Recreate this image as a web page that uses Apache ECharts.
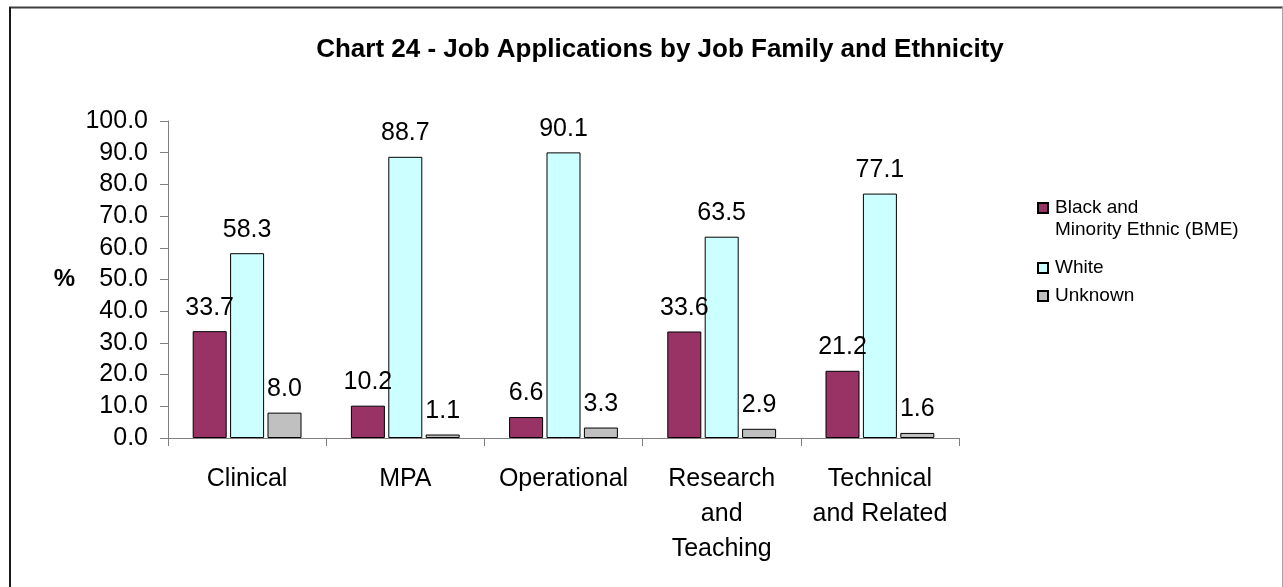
<!DOCTYPE html>
<html>
<head>
<meta charset="utf-8">
<script src="https://cdn.jsdelivr.net/npm/echarts@6/dist/echarts.min.js"></script>
<style>
  html, body { margin: 0; padding: 0; background: #fff; }
  #chart { width: 1283px; height: 587px; }
</style>
</head>
<body>
<div id="chart"></div>
<script>
// Job families on the x axis
const categories = ['Clinical', 'MPA', 'Operational', 'Research\nand\nTeaching', 'Technical\nand Related'];
// Percentage of applications by ethnic group
const bmeValues = [33.7, 10.2, 6.6, 33.6, 21.2];
const whiteValues = [58.3, 88.7, 90.1, 63.5, 77.1];
const unknownValues = [8.0, 1.1, 3.3, 2.9, 1.6];
const seriesNames = ['Black and\nMinority Ethnic (BME)', 'White', 'Unknown'];
const yTicks = { min: 0, max: 100, interval: 10 };

const FONT = '"Liberation Sans", Arial, sans-serif';
const chart = echarts.init(document.getElementById('chart'), null, { renderer: 'canvas' });

const labelStyle = {
  show: true,
  position: 'top',
  distance: 11,
  fontFamily: FONT,
  fontSize: 25,
  color: '#000',
  formatter: p => p.value.toFixed(1)
};

function barSeries(name, data, color) {
  return {
    name: name,
    type: 'bar',
    data: data,
    barWidth: 34,
    barGap: '10%',
    itemStyle: { color: color, borderColor: '#000', borderWidth: 1 },
    label: labelStyle,
    emphasis: { disabled: true }
  };
}

// One legend block per series so each entry can sit at its own height.
// A leading blank line keeps the marker level with the first line of a two-line name.
function legendBlock(name, top) {
  return {
    data: [name],
    left: 1032,
    top: top,
    orient: 'vertical',
    icon: 'rect',
    itemWidth: 10,
    itemHeight: 10,
    itemGap: 0,
    selectedMode: false,
    formatter: n => (n.indexOf('\n') >= 0 ? ' \n' + n : n),
    textStyle: { fontFamily: FONT, fontSize: 19, color: '#000', lineHeight: 22, padding: [0, 0, 0, 2] }
  };
}

chart.setOption({
  animation: false,
  backgroundColor: '#fff',
  title: {
    text: 'Chart 24 - Job Applications by Job Family and Ethnicity',
    left: 655,
    top: 32,
    textAlign: 'center',
    textStyle: { fontFamily: FONT, fontWeight: 'bold', fontSize: 26, color: '#000' }
  },
  legend: [
    legendBlock(seriesNames[0], 170),
    legendBlock(seriesNames[1], 252),
    legendBlock(seriesNames[2], 280)
  ],
  grid: { left: 168, right: 324, top: 121, bottom: 149, containLabel: false },
  xAxis: {
    type: 'category',
    data: categories,
    axisLine: { lineStyle: { color: '#7f7f7f', width: 1 } },
    axisTick: { show: true, length: 8, lineStyle: { color: '#7f7f7f' } },
    axisLabel: { fontFamily: FONT, fontSize: 25, color: '#000', lineHeight: 35, margin: 24, interval: 0 }
  },
  yAxis: {
    type: 'value',
    min: yTicks.min,
    max: yTicks.max,
    interval: yTicks.interval,
    name: '%',
    nameLocation: 'middle',
    nameRotate: 0,
    nameGap: 93,
    nameTextStyle: { fontFamily: FONT, fontSize: 24, fontWeight: 'bold', color: '#000' },
    axisLine: { show: true, lineStyle: { color: '#7f7f7f', width: 1 } },
    axisTick: { show: true, length: 8, lineStyle: { color: '#7f7f7f' } },
    splitLine: { show: false },
    axisLabel: { fontFamily: FONT, fontSize: 25, color: '#000', margin: 20, formatter: v => v.toFixed(1) }
  },
  series: [
    barSeries(seriesNames[0], bmeValues, '#993366'),
    barSeries(seriesNames[1], whiteValues, '#CCFFFF'),
    barSeries(seriesNames[2], unknownValues, '#C0C0C0')
  ],
  // Frame around the whole chart
  graphic: [
    { type: 'line', silent: true, shape: { x1: 9, y1: 7.5, x2: 1283, y2: 7.5 }, style: { stroke: '#404040', lineWidth: 2 } },
    { type: 'line', silent: true, shape: { x1: 10, y1: 7, x2: 10, y2: 587 }, style: { stroke: '#1a1a1a', lineWidth: 2 } },
    { type: 'line', silent: true, shape: { x1: 1282.5, y1: 7, x2: 1282.5, y2: 587 }, style: { stroke: '#a6a6a6', lineWidth: 1 } }
  ]
});
</script>
</body>
</html>
